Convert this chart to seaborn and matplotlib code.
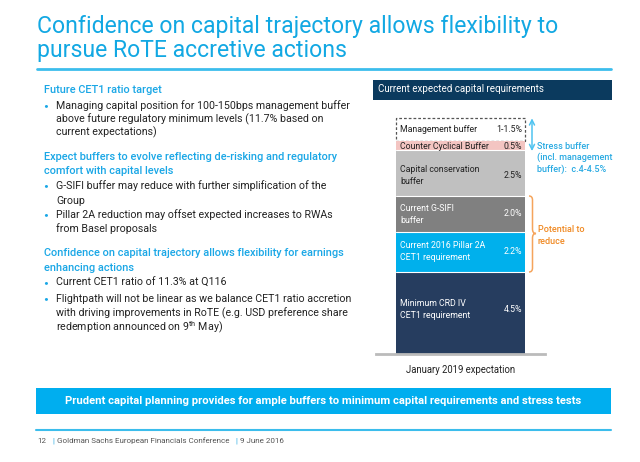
import matplotlib
matplotlib.use("Agg")
import matplotlib.pyplot as plt
import matplotlib.patches as mpatches
from matplotlib.path import Path
import seaborn as sns
import pandas as pd

# ---------------- data ----------------
category = "January 2019 expectation"
segments = ["Minimum CRD IV\nCET1 requirement", "Current 2016 Pillar 2A\nCET1 requirement",
            "Current G-SIFI\nbuffer", "Capital conservation\nbuffer",
            "Counter Cyclical Buffer", "Management buffer"]
values = [4.5, 2.2, 2.0, 2.5, 0.5, 1.25]
value_labels = ["4.5%", "2.2%", "2.0%", "2.5%", "0.5%", "1-1.5%"]
seg_colors = ["#263D5F", "#00B0EC", "#808080", "#C0C0C0", "#F3C5C2", "#FFFFFF"]
seg_text_colors = ["white", "white", "white", "#222222", "#222222", "#222222"]

title_lines = ["Confidence on capital trajectory allows flexibility to",
               "pursue RoTE accretive actions"]
header_text = "Current expected capital requirements"
stress_lines = ["Stress buffer", "(incl. management", "buffer):  c.4-4.5%"]
reduce_lines = ["Potential to", "reduce"]
banner_text = "Prudent capital planning provides for ample buffers to minimum capital requirements and stress tests"
footer_parts = ["12", "|", "Goldman Sachs European Financials Conference", "|", "9 June 2016"]

left_text = [
    ("h", "Future CET1 ratio target"),
    ("b", "Managing capital position for 100-150bps management buffer"),
    ("c", "above future regulatory minimum levels (11.7% based on"),
    ("c", "current expectations)"),
    ("h", "Expect buffers to evolve reflecting de-risking and regulatory"),
    ("h", "comfort with capital levels"),
    ("b", "G-SIFI buffer may reduce with further simplification of the"),
    ("c", "Group"),
    ("b", "Pillar 2A reduction may offset expected increases to RWAs"),
    ("c", "from Basel proposals"),
    ("h", "Confidence on capital trajectory allows flexibility for earnings"),
    ("h", "enhancing actions"),
    ("b", "Current CET1 ratio of 11.3% at Q116"),
    ("b", "Flightpath will not be linear as we balance CET1 ratio accretion"),
    ("c", "with driving improvements in RoTE (e.g. USD preference share"),
    ("c", "redemption announced on 9$^{\\mathrm{th}}$ May)"),
]
left_y = [90, 106, 119, 132, 157, 171, 186, 201, 215, 229, 253, 268, 283, 299, 313, 327]

# ---------------- style ----------------
sns.set_style("white")
plt.rcParams["font.family"] = ["Roboto", "DejaVu Sans"]
plt.rcParams["mathtext.fontset"] = "custom"
plt.rcParams["mathtext.rm"] = "Roboto"

W, H = 640, 462
fig = plt.figure(figsize=(6.4, 4.62), dpi=100)
renderer = fig.canvas.get_renderer()

def fx(x):
    return x / W

def fy(y):
    return 1 - y / H

def fit(s, target, **kw):
    t = fig.text(0, 0, s, fontsize=10, **kw)
    w = t.get_window_extent(renderer).width
    t.remove()
    return 10 * target / w

BLUE = "#12A8E3"
DARK = "#222222"

# title
ts = fit(title_lines[0], 520)
for s, y in zip(title_lines, [27, 50]):
    fig.text(fx(37), fy(y), s, fontsize=ts, color=BLUE, va="center", ha="left")
fig.add_artist(plt.Line2D([fx(37), fx(611)], [fy(69), fy(69)], color="#3CBDEC", lw=2,
                          transform=fig.transFigure))

# left text
hs = fit("Expect buffers to evolve reflecting de-risking and regulatory", 292, fontweight="medium")
bs = fit("Managing capital position for 100-150bps management buffer", 293)
for (kind, s), y in zip(left_text, left_y):
    if kind == "h":
        fig.text(fx(44), fy(y), s, fontsize=hs, fontweight="medium", color="#1AA7E6", va="center")
    else:
        if kind == "b":
            fig.text(fx(45.5), fy(y), "\u2022", fontsize=bs * 0.8, color="#1AA7E6", va="center",
                     ha="center", family="Lato")
        fig.text(fx(56), fy(y), s, fontsize=bs, color=DARK, va="center")

# right header box
fig.add_artist(mpatches.Rectangle((fx(373), fy(99.5)), fx(611.5) - fx(373), fy(80) - fy(99.5),
                                  transform=fig.transFigure, color="#0B3A5E", lw=0))
hds = fit(header_text, 165)
fig.text(fx(378), fy(89.5), header_text, fontsize=hds, color="white", va="center")

# ---------------- stacked bar (seaborn) ----------------
ax = fig.add_axes([fx(376), fy(354), fx(545) - fx(376), fy(110) - fy(354)])
df = pd.DataFrame({"category": [category] * len(values), "segment": segments, "value": values})
bottom = 0.0
bar_w = 129 / 169
for i, row in df.iterrows():
    dashed = i == len(df) - 1
    sns.barplot(x=[row["category"]], y=[row["value"]], bottom=bottom, color=seg_colors[i],
                saturation=1, width=bar_w, errorbar=None, ax=ax,
                edgecolor="#555555" if dashed else seg_colors[i],
                linewidth=0.9 if dashed else 0,
                linestyle=(0, (2.2, 1.6)) if dashed else "-", zorder=2 if not dashed else 1)
    bottom += row["value"]
ax.set_xlim(-0.5, 0.5)
ax.set_ylim(0, 244 / 18.2)
ax.set_yticks([])
ax.set_ylabel("")
ax.set_xlabel("")
for sp in ["top", "left", "right"]:
    ax.spines[sp].set_visible(False)
ax.spines["bottom"].set_color("#BBBBBB")
ax.spines["bottom"].set_linewidth(2)
ax.tick_params(axis="x", length=0, pad=8)
ax.patch.set_alpha(0)

# thin white separators between segments
cum = 0
for v in values[:-2]:
    cum += v
    ax.axhline(cum, xmin=0.5 - bar_w / 2, xmax=0.5 + bar_w / 2, color="white", lw=0.8, zorder=3)

lsz = fit("Counter Cyclical Buffer", 89)
for t in ax.get_xticklabels():
    t.set_fontsize(fit(category, 110))
    t.set_color(DARK)

# segment labels (pixel positions)
label_y = [[303.5, 315], [245.5, 257.5], [209, 220.5], [170, 181.5], [146.5], [130]]
value_y = [309, 252, 213, 175, 146.5, 130]
for i in range(len(values)):
    for line, y in zip(segments[i].split("\n"), label_y[i]):
        fig.text(fx(400), fy(y), line, fontsize=lsz, color=seg_text_colors[i], va="center")
    fig.text(fx(522), fy(value_y[i]), value_labels[i], fontsize=lsz, color=seg_text_colors[i],
             va="center", ha="right")

# stress arrow
top_total = sum(values)
x_arrow = -0.5 + (532 - 376) / 169
ax.annotate("", xy=(x_arrow, top_total), xytext=(x_arrow, sum(values[:4]) - 0.05),
            arrowprops=dict(arrowstyle="<->", color="#4FC3F0", lw=1.1, shrinkA=0, shrinkB=0,
                            mutation_scale=9), annotation_clip=False)
ss = fit(stress_lines[1], 75, fontweight="medium")
for s, y in zip(stress_lines, [146, 157.5, 169]):
    fig.text(fx(537), fy(y), s, fontsize=ss, color="#29AAE2", va="center", fontweight="medium")

# brace for potential to reduce
pts = [(529, 196), (532.5, 196), (532.5, 200), (532.5, 229), (532.5, 233.5), (536, 233.5),
       (532.5, 233.5), (532.5, 238), (532.5, 268), (532.5, 272), (529, 272)]
codes = [Path.MOVETO, Path.CURVE3, Path.CURVE3, Path.LINETO, Path.CURVE3, Path.CURVE3,
         Path.CURVE3, Path.CURVE3, Path.LINETO, Path.CURVE3, Path.CURVE3]
path = Path([(fx(x), fy(y)) for x, y in pts], codes)
fig.add_artist(mpatches.PathPatch(path, transform=fig.transFigure, fill=False,
                                  edgecolor="#F5A45C", lw=1.1))
for s, y in zip(reduce_lines, [230, 241]):
    fig.text(fx(538), fy(y), s, fontsize=ss, color="#F08A24", va="center", fontweight="medium")

# banner
fig.add_artist(mpatches.Rectangle((fx(36), fy(414)), fx(611) - fx(36), fy(388) - fy(414),
                                  transform=fig.transFigure, color="#00AEEF", lw=0))
bns = fit(banner_text, 517, fontweight="bold")
fig.text(fx(323.5), fy(401), banner_text, fontsize=bns, fontweight="bold", color="white",
         ha="center", va="center")

# footer
fig.add_artist(plt.Line2D([fx(36), fx(611)], [fy(429.5), fy(429.5)], color="#3CBDEC", lw=1.5,
                          transform=fig.transFigure))
fs = fit(footer_parts[2], 172)
for s, x, c in zip(footer_parts, [37.5, 52, 57, 235, 240],
                   ["#555555", "#29AAE2", "#555555", "#29AAE2", "#555555"]):
    fig.text(fx(x), fy(441), s, fontsize=fs, color=c, va="center")

fig.savefig("out.png", dpi=100)
